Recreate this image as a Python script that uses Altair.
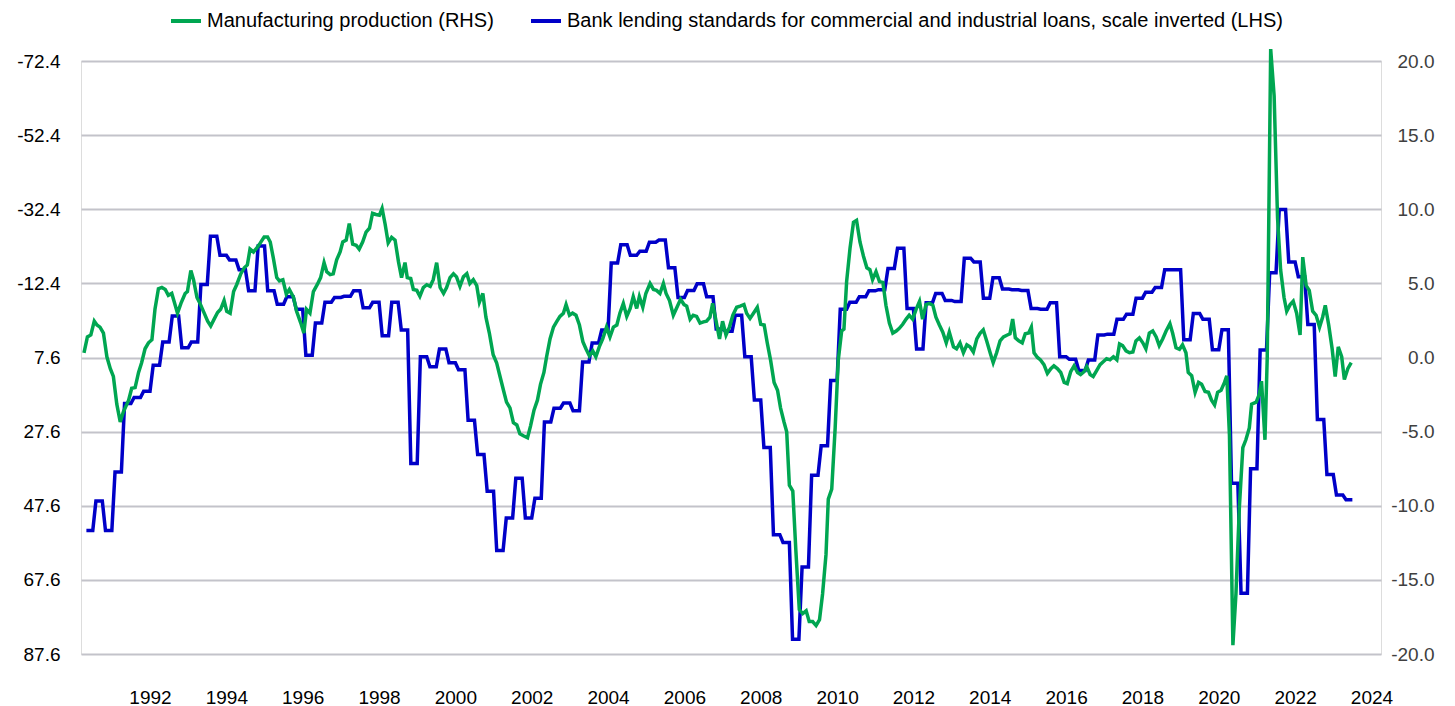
import altair as alt
import pandas as pd

GREEN_NAME = "Manufacturing production (RHS)"
BLUE_NAME = "Bank lending standards for commercial and industrial loans, scale inverted (LHS)"

# Manufacturing production, y-o-y % (right axis) - dates as fractional years
green_t = [
    1990.27, 1990.36, 1990.45, 1990.54, 1990.61, 1990.69, 1990.78, 1990.87, 1990.96, 1991.04,
    1991.13, 1991.22, 1991.30, 1991.44, 1991.52, 1991.61, 1991.70, 1991.78, 1991.87, 1991.96,
    1992.05, 1992.13, 1992.22, 1992.31, 1992.40, 1992.48, 1992.57, 1992.63, 1992.72, 1992.81,
    1992.92, 1992.98, 1993.07, 1993.14, 1993.23, 1993.31, 1993.42, 1993.51, 1993.59, 1993.68,
    1993.77, 1993.85, 1993.94, 1994.01, 1994.10, 1994.19, 1994.27, 1994.38, 1994.47, 1994.55,
    1994.62, 1994.71, 1994.80, 1994.89, 1994.99, 1995.08, 1995.15, 1995.23, 1995.32, 1995.39,
    1995.48, 1995.57, 1995.65, 1995.76, 1995.84, 1995.95, 1996.03, 1996.10, 1996.19, 1996.28,
    1996.38, 1996.47, 1996.56, 1996.63, 1996.72, 1996.80, 1996.89, 1996.98, 1997.05, 1997.14,
    1997.22, 1997.31, 1997.40, 1997.48, 1997.57, 1997.66, 1997.75, 1997.83, 1997.92, 1998.01,
    1998.08, 1998.16, 1998.24, 1998.33, 1998.42, 1998.51, 1998.59, 1998.68, 1998.74, 1998.83,
    1998.90, 1998.99, 1999.07, 1999.16, 1999.25, 1999.34, 1999.42, 1999.51, 1999.60, 1999.69,
    1999.77, 1999.86, 1999.95, 2000.03, 2000.12, 2000.21, 2000.30, 2000.38, 2000.47, 2000.56,
    2000.63, 2000.72, 2000.80, 2000.89, 2000.99, 2001.08, 2001.17, 2001.26, 2001.34, 2001.43,
    2001.52, 2001.61, 2001.69, 2001.78, 2001.89, 2001.97, 2002.06, 2002.15, 2002.23, 2002.32,
    2002.39, 2002.48, 2002.57, 2002.65, 2002.74, 2002.83, 2002.90, 2002.99, 2003.07, 2003.16,
    2003.25, 2003.34, 2003.42, 2003.51, 2003.60, 2003.68, 2003.77, 2003.86, 2003.96, 2004.05,
    2004.14, 2004.23, 2004.31, 2004.40, 2004.49, 2004.58, 2004.66, 2004.75, 2004.82, 2004.91,
    2004.99, 2005.10, 2005.19, 2005.27, 2005.36, 2005.45, 2005.52, 2005.61, 2005.71, 2005.82,
    2005.90, 2005.99, 2006.06, 2006.15, 2006.23, 2006.32, 2006.41, 2006.50, 2006.58, 2006.67,
    2006.74, 2006.83, 2006.92, 2007.00, 2007.09, 2007.18, 2007.27, 2007.37, 2007.46, 2007.56,
    2007.63, 2007.72, 2007.81, 2007.91, 2008.00, 2008.09, 2008.17, 2008.26, 2008.35, 2008.44,
    2008.52, 2008.61, 2008.68, 2008.75, 2008.84, 2008.92, 2009.01, 2009.10, 2009.19, 2009.27,
    2009.36, 2009.45, 2009.54, 2009.62, 2009.71, 2009.77, 2009.86, 2009.95, 2010.03, 2010.12,
    2010.18, 2010.25, 2010.34, 2010.43, 2010.51, 2010.60, 2010.69, 2010.78, 2010.86, 2010.93,
    2011.02, 2011.11, 2011.20, 2011.28, 2011.37, 2011.46, 2011.55, 2011.63, 2011.72, 2011.81,
    2011.89, 2011.98, 2012.07, 2012.16, 2012.24, 2012.33, 2012.42, 2012.51, 2012.59, 2012.68,
    2012.77, 2012.86, 2012.94, 2013.05, 2013.13, 2013.22, 2013.31, 2013.40, 2013.48, 2013.57,
    2013.66, 2013.75, 2013.83, 2013.92, 2014.01, 2014.09, 2014.18, 2014.27, 2014.36, 2014.46,
    2014.53, 2014.60, 2014.67, 2014.76, 2014.85, 2014.93, 2015.02, 2015.09, 2015.16, 2015.25,
    2015.33, 2015.42, 2015.51, 2015.60, 2015.68, 2015.77, 2015.86, 2015.95, 2016.03, 2016.12,
    2016.21, 2016.30, 2016.38, 2016.47, 2016.54, 2016.63, 2016.71, 2016.80, 2016.89, 2016.98,
    2017.06, 2017.15, 2017.24, 2017.33, 2017.40, 2017.48, 2017.57, 2017.66, 2017.75, 2017.83,
    2017.92, 2018.01, 2018.09, 2018.18, 2018.27, 2018.36, 2018.44, 2018.53, 2018.62, 2018.72,
    2018.79, 2018.88, 2018.97, 2019.05, 2019.14, 2019.20, 2019.29, 2019.38, 2019.47, 2019.55,
    2019.64, 2019.73, 2019.81, 2019.89, 2019.97, 2020.06, 2020.15, 2020.21, 2020.28, 2020.37,
    2020.45, 2020.54, 2020.63, 2020.71, 2020.80, 2020.86, 2020.98, 2021.06, 2021.12, 2021.21,
    2021.27, 2021.36, 2021.45, 2021.54, 2021.62, 2021.71, 2021.78, 2021.87, 2021.95, 2022.04,
    2022.13, 2022.20, 2022.29, 2022.37, 2022.46, 2022.55, 2022.64, 2022.72, 2022.79, 2022.88,
    2022.97, 2023.05, 2023.13, 2023.22, 2023.29, 2023.38, 2023.47,
]
green_v = [
    0.32, 1.39, 1.52, 2.45, 2.19, 2.05, 1.65, 0.05, -0.75, -1.28,
    -3.15, -4.35, -3.68, -2.88, -2.08, -2.03, -1.01, -0.35, 0.59, 0.99,
    1.20, 3.25, 4.64, 4.72, 4.59, 4.19, 4.32, 3.79, 2.99, 3.65,
    4.32, 4.45, 5.87, 5.25, 4.05, 3.65, 2.99, 2.45, 2.13, 2.59,
    3.04, 3.25, 3.84, 3.12, 2.99, 4.45, 4.91, 5.65, 6.05, 6.24,
    7.31, 7.12, 7.39, 7.73, 8.13, 8.13, 7.79, 6.72, 5.39, 5.17,
    5.25, 4.27, 4.59, 4.05, 3.12, 2.32, 1.65, 3.25, 2.99, 4.45,
    4.91, 5.39, 6.40, 5.79, 5.60, 5.65, 6.59, 7.12, 7.79, 7.92,
    9.04, 7.65, 7.57, 7.31, 7.79, 8.45, 8.72, 9.73, 9.65, 9.60,
    10.05, 8.99, 7.73, 8.11, 7.92, 6.45, 5.39, 6.40, 5.39, 5.33,
    4.59, 4.53, 4.13, 4.72, 4.91, 4.80, 5.25, 6.40, 4.72, 4.32,
    4.72, 5.39, 5.65, 5.44, 4.80, 5.44, 5.65, 4.99, 5.25, 4.85,
    3.73, 4.32, 2.72, 1.65, 0.19, -0.35, -1.28, -2.21, -3.01, -3.40,
    -4.40, -4.55, -5.15, -5.28, -5.41, -4.61, -3.55, -2.88, -1.81, -1.01,
    0.05, 1.25, 2.05, 2.40, 2.77, 2.99, 3.57, 2.85, 2.99, 2.85,
    2.19, 1.07, 0.59, 0.11, 0.45, 0.05, 0.72, 1.25, 2.05, 1.39,
    2.05, 2.19, 2.99, 3.65, 2.77, 3.31, 4.11, 3.31, 4.11, 3.39,
    4.32, 4.99, 4.59, 4.53, 4.32, 4.99, 4.32, 3.84, 2.85, 3.47,
    3.92, 3.57, 3.47, 2.59, 2.85, 2.77, 2.32, 2.40, 2.45, 2.72,
    3.65, 2.45, 1.25, 2.45, 1.52, 2.05, 2.85, 3.39, 3.47, 3.57,
    2.99, 2.64, 2.99, 3.39, 2.24, 2.19, 0.99, -0.21, -1.68, -2.21,
    -3.41, -4.35, -5.01, -8.61, -9.01, -13.01, -17.01, -17.28, -17.09, -17.81,
    -17.81, -18.08, -17.68, -15.95, -13.28, -9.55, -8.88, -4.75, -0.21, 1.79,
    1.92, 5.12, 7.39, 9.12, 9.25, 7.79, 6.85, 6.05, 5.92, 5.25,
    5.79, 5.12, 5.07, 3.52, 2.32, 1.65, 1.79, 1.97, 2.24, 2.59,
    2.85, 2.59, 3.25, 3.79, 2.59, 3.57, 3.65, 3.52, 2.72, 2.19,
    1.71, 0.99, 1.71, 0.72, 0.59, 0.99, 0.32, 0.85, 0.72, 0.37,
    1.25, 1.65, 1.87, 1.12, 0.32, -0.35, 0.32, 1.12, 1.39, 1.52,
    1.60, 2.59, 1.33, 1.12, 0.99, 1.60, 1.65, 2.05, 0.32, 0.00,
    -0.16, -0.48, -1.07, -0.75, -0.56, -0.75, -1.01, -1.68, -1.76, -0.96,
    -0.56, -1.01, -1.15, -0.96, -0.61, -1.15, -1.28, -0.88, -0.48, -0.27,
    -0.08, -0.16, 0.05, -0.16, 0.91, 0.80, 0.45, 0.32, 0.37, 1.12,
    1.33, 0.99, 0.59, 1.65, 1.79, 1.39, 0.80, 1.25, 1.79, 2.28,
    1.65, 0.65, 0.55, 0.85, 0.32, -1.01, -1.23, -2.35, -1.68, -1.81,
    -2.29, -2.35, -2.88, -3.20, -2.35, -2.21, -1.68, -1.23, -5.28, -19.41,
    -15.95, -10.08, -6.08, -5.55, -4.75, -3.15, -3.01, -2.48, -1.60, -5.55,
    0.05, 20.80, 17.65, 9.39, 5.92, 4.05, 3.12, 3.57, 3.79, 2.99,
    1.52, 6.77, 4.85, 4.53, 3.12, 2.85, 2.05, 2.72, 3.52, 2.19,
    0.59, -1.28, 0.72, 0.05, -1.49, -0.75, -0.35,
]

# Bank lending standards, net % tightening, quarterly from 1990 Q2 (left axis, inverted)
blue_start_year = 1990
blue_start_month = 4
blue_q = [
    54.3, 46.3, 54.3,
    38.5, 20.0, 18.4, 16.7,
    9.7, 3.4, -3.6, 5.0,
    3.4, -12.1, -25.1, -20.0,
    -18.7, -16.1, -10.4, -22.5,
    -10.4, -6.8, -8.8, -5.4,
    7.0, -1.7, -7.3, -8.6,
    -8.9, -10.4, -5.8, -7.3,
    1.7, -7.3, 0.2, 36.2,
    7.4, 10.1, 5.3, 9.0,
    10.9, 24.5, 33.8, 43.7,
    59.7, 50.9, 40.2, 50.9,
    45.6, 25.0, 21.3, 19.9,
    22.0, 8.8, 3.7, 0.2,
    -17.9, -22.8, -20.0, -21.1,
    -23.5, -24.1, -16.6, -8.6,
    -10.5, -12.3, -8.8, -0.1,
    0.5, -3.8, 7.4, 19.1,
    31.9, 55.4, 57.5, 83.6,
    64.1, 39.4, 31.4, 13.8,
    -5.4, -7.3, -8.8, -10.4,
    -10.7, -16.4, -21.9, -5.6,
    5.3, -7.2, -9.7, -7.8,
    -7.5, -19.2, -18.2, -8.4,
    -13.9, -10.9, -10.7, -10.5,
    -5.6, -5.4, -7.2, 7.4,
    8.1, 11.1, 8.3, 1.5,
    1.3, -2.7, -4.1, -8.4,
    -10.0, -11.3, -16.1, -16.1,
    2.8, -4.3, -2.7, 5.5,
    0.1, 41.5, 71.2, 37.6,
    5.6, -15.3, -32.3, -18.2,
    -14.2, -1.3, 24.3, 39.2,
    44.7, 46.0,
]

left_ticks = [-72.4, -52.4, -32.4, -12.4, 7.6, 27.6, 47.6, 67.6, 87.6]
right_ticks = [-20, -15, -10, -5, 0, 5, 10, 15, 20]
year_ticks = list(range(1992, 2025, 2))

GREEN = "#00A651"
BLUE = "#0000C8"
FONT = "Liberation Sans"
HYPHEN_LABEL = "replace(datum.label, '\u2212', '-')"

green_df = pd.DataFrame({"t": green_t, "v": green_v, "s": GREEN_NAME})
blue_rows = []
for i, val in enumerate(blue_q):
    for m in range(3):
        k = i * 3 + m
        blue_rows.append({"t": blue_start_year + (blue_start_month + k) / 12.0, "v": val, "s": BLUE_NAME})
blue_df = pd.DataFrame(blue_rows)

x_enc = alt.X(
    "t:Q",
    scale=alt.Scale(domain=[1990.192, 2024.25], nice=False, zero=False),
    axis=alt.Axis(values=year_ticks, format="d", title=None, grid=False, domain=False,
                  ticks=False, labelPadding=34, labelFontSize=19, labelColor="#000000",
                  labelFont=FONT),
)

legend = alt.Legend(
    orient="none", legendX=88, legendY=-57, direction="horizontal", title=None,
    symbolType="stroke", symbolSize=900, symbolStrokeWidth=4, labelLimit=2000,
    labelFontSize=20, labelFont=FONT, labelColor="#000000", labelOffset=4,
    columnPadding=29, padding=0,
)
color_enc = alt.Color(
    "s:N",
    scale=alt.Scale(domain=[GREEN_NAME, BLUE_NAME], range=[GREEN, BLUE]),
    legend=legend,
)

blue_line = alt.Chart(blue_df).mark_line(strokeWidth=3.5, clip=False).encode(
    x=x_enc,
    y=alt.Y(
        "v:Q",
        scale=alt.Scale(domain=[-72.4, 87.6], reverse=True, nice=False, zero=False),
        axis=alt.Axis(orient="left", values=left_ticks, format=".1f", title=None,
                      grid=True, gridColor="#C3C3CA", gridWidth=2, domain=False,
                      ticks=False, labelPadding=21, labelFontSize=19,
                      labelColor="#000000", labelFont=FONT, labelExpr=HYPHEN_LABEL),
    ),
    color=color_enc,
)

green_line = alt.Chart(green_df).mark_line(strokeWidth=3.5, clip=False).encode(
    x=x_enc,
    y=alt.Y(
        "v:Q",
        scale=alt.Scale(domain=[-20, 20], nice=False, zero=False),
        axis=alt.Axis(orient="right", values=right_ticks, format=".1f", title=None,
                      grid=False, domain=False, ticks=False, labelAlign="right",
                      labelPadding=53, labelFontSize=19, labelColor="#404040",
                      labelFont=FONT, labelExpr=HYPHEN_LABEL),
    ),
    color=color_enc,
)

chart = (
    alt.layer(blue_line, green_line)
    .resolve_scale(y="independent")
    .properties(
        width=1300,
        height=593,
        autosize=alt.AutoSizeParams(type="none"),
        padding={"left": 73, "top": 53, "right": 66, "bottom": 52},
    )
    .configure_view(stroke=None)
    .configure(font=FONT)
)

chart.save("out.html", embed_options={"renderer": "svg", "actions": False})
